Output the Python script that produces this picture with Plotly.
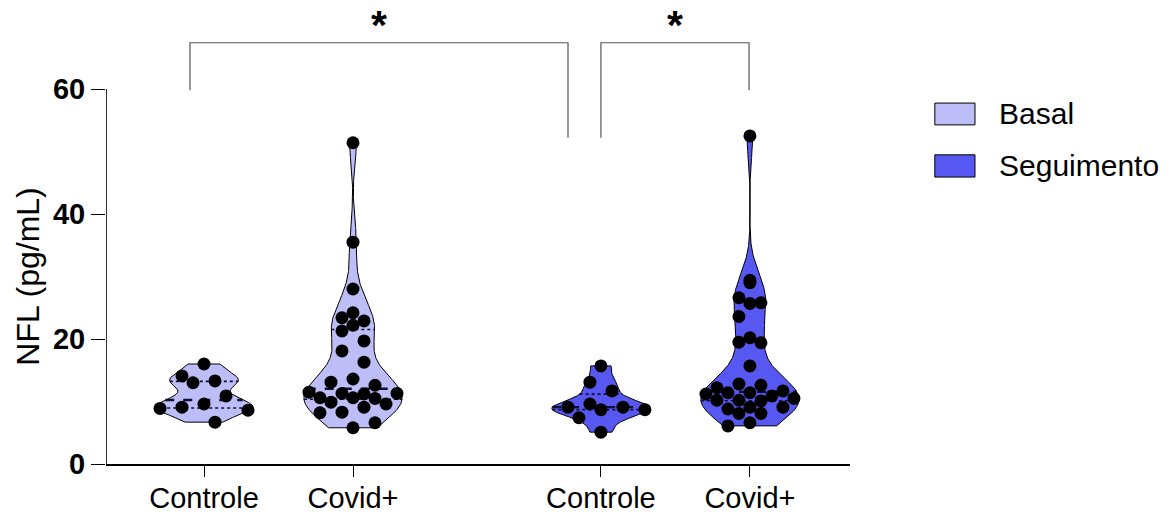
import numpy as np
import plotly.graph_objects as go

# ---- data -------------------------------------------------------------
categories = ["Controle", "Covid+", "Controle", "Covid+"]
timepoints = ["Basal", "Basal", "Seguimento", "Seguimento"]
positions = [1.0, 2.0, 3.664, 4.664]

basal_controle = [16.0, 14.1, 13.0, 13.3, 10.9, 9.6, 8.9, 9.1, 8.6, 6.7]
basal_covid = [51.4, 35.5, 28.0, 24.2, 23.4, 22.9, 22.2, 21.3, 19.7, 18.1,
               16.3, 13.6, 13.1, 12.6, 11.5, 11.3, 11.3, 11.2, 10.6, 10.6,
               10.5, 9.9, 9.6, 9.1, 8.2, 8.3, 6.6, 5.8]
seg_controle = [15.7, 13.1, 11.7, 9.1, 9.6, 8.7, 8.7, 9.1, 7.4, 5.1]
seg_covid = [52.5, 29.4, 29.0, 26.6, 25.8, 25.7, 23.6, 20.2, 19.4, 19.5,
             15.7, 12.8, 12.2, 12.6, 11.7, 11.4, 11.4, 11.2, 10.9, 10.5,
             10.2, 10.1, 10.2, 9.1, 9.1, 8.8, 8.1, 8.1, 6.1, 6.6]
groups = [basal_controle, basal_covid, seg_controle, seg_covid]

legend_names = ["Basal", "Seguimento"]
fill_colors = {"Basal": "#BDBDF8", "Seguimento": "#5757F2"}

y_ticks = [0, 20, 40, 60]

# ---- geometry helpers ---------------------------------------------------
X_MIN, X_MAX = 0.3423, 5.3356
Y_MAX = 72.64
PX_X = 744 / (X_MAX - X_MIN)     # pixels per x unit
PX_Y = 454 / Y_MAX               # pixels per y unit
HALF_WIDTH = 0.33                # max half width of each violin (x units)


def kde_outline(values, n=400, bw_scale=0.6):
    """Gaussian KDE (scaled Scott bandwidth) truncated at the data range."""
    v = np.asarray(values, float)
    h = 1.06 * v.std(ddof=1) * len(v) ** (-0.2) * bw_scale
    ys = np.linspace(v.min(), v.max(), n)
    dens = np.exp(-0.5 * ((ys[:, None] - v[None, :]) / h) ** 2).sum(axis=1)
    return ys, dens


def swarm_offsets(values, ys, w, lane_px=11.0, min_dist_px=19.0, max_lane=4):
    """Greedy beeswarm on a grid of lanes, kept inside the violin outline."""
    v = np.asarray(values, float)
    order = np.argsort(-v)
    placed = []
    offs = np.zeros(len(v))
    for i in order:
        py = v[i] * PX_Y
        room = float(np.interp(v[i], ys, w)) * PX_X - 2.0
        k_max = int(min(max_lane, max(room, 0.0) // lane_px))
        lanes = [0]
        for k in range(1, k_max + 1):
            lanes += [-k, k]
        best, best_d = None, -1.0
        for lane in lanes:
            px = lane * lane_px
            d = min([np.hypot(px - qx, py - qy) for qx, qy in placed] or [1e9])
            if d >= min_dist_px:
                best = px
                break
            if d > best_d + 0.5:
                best, best_d = px, d
        placed.append((best, py))
        offs[i] = best / PX_X
    return offs


fig = go.Figure()

for pos, vals, tp in zip(positions, groups, timepoints):
    ys, dens = kde_outline(vals)
    w = dens / dens.max() * HALF_WIDTH
    xs = np.concatenate([pos + w, (pos - w)[::-1], [pos + w[0]]])
    yy = np.concatenate([ys, ys[::-1], [ys[0]]])
    fig.add_trace(go.Scatter(
        x=xs, y=yy, mode="lines", fill="toself",
        fillcolor=fill_colors[tp], line=dict(color="black", width=1),
        showlegend=False, hoverinfo="skip"))

    q1, med, q3 = np.percentile(vals, [25, 50, 75])
    for q, dash, lw in [(q1, "dot", 1.6), (med, "dash", 2.4), (q3, "dot", 1.6)]:
        hw = float(np.interp(q, ys, w))
        fig.add_trace(go.Scatter(
            x=[pos - hw, pos + hw], y=[q, q], mode="lines",
            line=dict(color="#101030", width=lw, dash=dash),
            showlegend=False, hoverinfo="skip"))

    offs = swarm_offsets(vals, ys, w)
    fig.add_trace(go.Scatter(
        x=pos + offs, y=vals, mode="markers",
        marker=dict(color="black", size=13, line=dict(width=0)),
        showlegend=False, cliponaxis=False))

# y axis line drawn from 0 to 60 only
fig.add_shape(type="line", xref="x", yref="y", x0=X_MIN, x1=X_MIN, y0=0, y1=60,
              line=dict(color="black", width=1.6))

# significance brackets
bracket_color = "#555555"
brackets = [
    (0.906, 3.443, 59.8, 52.2),
    (3.664, 4.658, 52.2, 59.8),
]
for x0, x1, yl, yr in brackets:
    fig.add_trace(go.Scatter(
        x=[x0, x0, x1, x1], y=[yl, 67.4, 67.4, yr], mode="lines",
        line=dict(color=bracket_color, width=1.2),
        showlegend=False, hoverinfo="skip", cliponaxis=False))
    fig.add_annotation(x=(x0 + x1) / 2, y=1.0, xref="x", yref="paper",
                       yshift=9, borderpad=0, text="<b>*</b>", showarrow=False,
                       font=dict(size=41, color="black"), yanchor="top")

# legend
legend_rows = [(0.795, 0.747), (0.681, 0.632)]
for name, (ya, yb) in zip(legend_names, legend_rows):
    fig.add_shape(type="rect", xref="paper", yref="paper",
                  x0=1.114, x1=1.168, y0=yb, y1=ya,
                  fillcolor=fill_colors[name], line=dict(color="black", width=1))
    fig.add_annotation(xref="paper", yref="paper", x=1.197, y=(ya + yb) / 2,
                       text=name, showarrow=False, xanchor="left",
                       yanchor="middle", font=dict(size=30, color="black"))

# y axis title, centred on the drawn 0-60 axis
fig.add_annotation(xref="paper", yref="y", x=-0.106, y=30,
                   text="NFL (pg/mL)", textangle=-90, showarrow=False,
                   xanchor="center", yanchor="middle",
                   font=dict(size=32, color="black"))

fig.update_layout(
    width=1170, height=514,
    margin=dict(l=106, r=320, t=10, b=50),
    plot_bgcolor="white", paper_bgcolor="white",
    font=dict(family="Liberation Sans, Arial, sans-serif", color="black"),
    showlegend=False,
    xaxis=dict(range=[X_MIN, X_MAX], showgrid=False, zeroline=False,
               automargin=False,
               showline=True, linecolor="black", linewidth=1.6,
               ticks="outside", ticklen=11, tickwidth=1.4, tickcolor="black",
               tickvals=positions, ticktext=categories,
               ticklabelstandoff=-4,
               tickfont=dict(size=29)),
    yaxis=dict(range=[0, Y_MAX], showgrid=False, zeroline=False,
               automargin=False,
               showline=False, ticks="outside", ticklen=14, tickwidth=1.4,
               tickcolor="black", tickvals=y_ticks,
               tickfont=dict(size=29, weight="bold")),
)

fig.write_html("out.html")
